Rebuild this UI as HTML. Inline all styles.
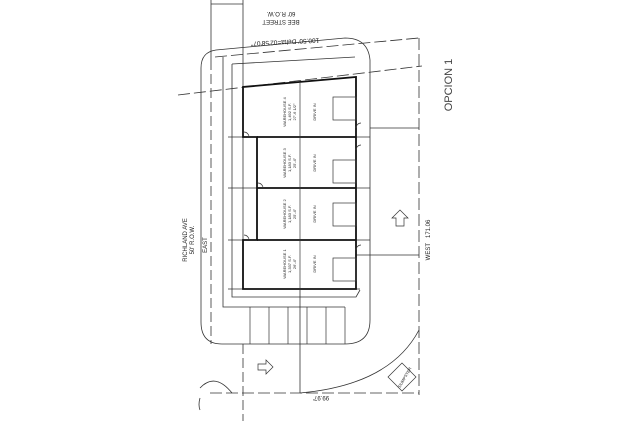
<!DOCTYPE html>
<html><head><style>
html,body{margin:0;padding:0;background:#fff;}
svg{display:block;font-family:"Liberation Sans",sans-serif;}
</style></head><body>
<svg width="631" height="421" viewBox="0 0 631 421" xmlns="http://www.w3.org/2000/svg">
<g fill="none" stroke="#333" stroke-width="0.8">
<line x1="211" y1="0" x2="211" y2="60"/>
<line x1="243" y1="0" x2="243" y2="87"/>
<line x1="211" y1="4" x2="243" y2="4"/>
<line x1="211" y1="60" x2="211" y2="344" stroke-dasharray="10,4"/>
<line x1="243" y1="344" x2="243" y2="421" stroke-dasharray="10,4"/>
<path d="M201,68 Q201,52 216,50 L345,38 Q368,38 370,60 L370,320 Q370,344 345,344 L222,344 Q201,344 201,322 Z"/>
<path d="M223,57 L223,307 L345,307"/>
<path d="M232,64 L232,297 L356,297 L360,290"/>
<line x1="232" y1="64" x2="355" y2="57"/>
<line x1="178" y1="95" x2="422" y2="66" stroke-dasharray="12,4"/>
<line x1="215" y1="57" x2="419" y2="38" stroke-dasharray="12,4"/>
<line x1="419" y1="38" x2="419" y2="395" stroke-dasharray="12,4"/>
<line x1="210" y1="393" x2="419" y2="393" stroke-dasharray="12,4"/>
<path d="M200,388 Q215,372 232,393"/>
<path d="M200,398 Q198,405 200,410"/>
<path d="M300,393 Q390,385 419,330"/>
<line x1="370" y1="128" x2="419" y2="128"/>
<line x1="356" y1="255" x2="419" y2="255"/>
<line x1="300" y1="290" x2="300" y2="393"/>
<g stroke-width="0.7">
<line x1="250" y1="307" x2="250" y2="344"/>
<line x1="269" y1="307" x2="269" y2="344"/>
<line x1="288" y1="307" x2="288" y2="344"/>
<line x1="307" y1="307" x2="307" y2="344"/>
<line x1="326" y1="307" x2="326" y2="344"/>
<line x1="345" y1="307" x2="345" y2="344"/>
</g>
<line x1="228" y1="137" x2="370" y2="137"/>
<line x1="228" y1="188" x2="370" y2="188"/>
<line x1="228" y1="240" x2="370" y2="240"/>
<line x1="228" y1="289" x2="360" y2="289"/>
<line x1="243" y1="137" x2="243" y2="240"/>
</g>
<g fill="none" stroke="#111" stroke-width="1.8">
<path d="M243,137 L243,87 L356,77 L356,289 L243,289 L243,240 L257,240 L257,137 Z"/>
<line x1="257" y1="137" x2="356" y2="137"/>
<line x1="257" y1="188" x2="356" y2="188"/>
<line x1="257" y1="240" x2="356" y2="240"/>
</g>
<g fill="none" stroke="#333" stroke-width="0.7">
<line x1="300" y1="82" x2="300" y2="289"/>
<rect x="333" y="97" width="23" height="23"/>
<rect x="333" y="160" width="23" height="23"/>
<rect x="333" y="203" width="23" height="23"/>
<rect x="333" y="258" width="23" height="23"/>
<path d="M249,137 A5,5 0 0 0 244,132"/>
<path d="M263,188 A5,5 0 0 0 258,183"/>
<path d="M249,240 A5,5 0 0 0 244,235"/>
<path d="M356,128 A5,5 0 0 1 361,123"/>
<path d="M356,150 A5,5 0 0 1 361,145"/>
<path d="M356,250 A5,5 0 0 1 361,245"/>
<path d="M392,218 L400,210 L408,218 L404,218 L404,226 L396,226 L396,218 Z"/>
<path d="M266,360 L273,367 L266,374 L266,370 L258,370 L258,364 L266,364 Z"/>
<path d="M402,363 L416,377 L402,391 L388,377 Z"/>
</g>
<g fill="#222" font-size="6">
<text transform="translate(281,20) rotate(180)" text-anchor="middle">BEE STREET</text>
<text transform="translate(281,12) rotate(180)" text-anchor="middle">60' R.O.W.</text>
<text transform="translate(285,40) rotate(177)" text-anchor="middle" font-size="6.5">100.50' Delta=02'58'07"</text>
<text transform="translate(452,85) rotate(-90)" text-anchor="middle" font-size="11" fill="#444">OPCION 1</text>
<text transform="translate(187,240) rotate(-90)" text-anchor="middle">RICHLAND AVE</text>
<text transform="translate(194,240) rotate(-90)" text-anchor="middle">50' R.O.W.</text>
<text transform="translate(207,245) rotate(-90)" text-anchor="middle">EAST</text>
<text transform="translate(430,240) rotate(-90)" text-anchor="middle">WEST&#160;&#160;&#160;171.06</text>
<text transform="translate(321,396) rotate(180)" text-anchor="middle">99.97'</text>
<g font-size="4">
<text transform="translate(286,112) rotate(-90)" text-anchor="middle">WAREHOUSE 4</text>
<text transform="translate(291,112) rotate(-90)" text-anchor="middle">1,492 S.F.</text>
<text transform="translate(296,112) rotate(-90)" text-anchor="middle">27'-6 1/2"</text>
<text transform="translate(286,163) rotate(-90)" text-anchor="middle">WAREHOUSE 3</text>
<text transform="translate(291,163) rotate(-90)" text-anchor="middle">1,183 S.F.</text>
<text transform="translate(296,163) rotate(-90)" text-anchor="middle">25'-4"</text>
<text transform="translate(286,214) rotate(-90)" text-anchor="middle">WAREHOUSE 2</text>
<text transform="translate(291,214) rotate(-90)" text-anchor="middle">1,183 S.F.</text>
<text transform="translate(296,214) rotate(-90)" text-anchor="middle">25'-4"</text>
<text transform="translate(286,264) rotate(-90)" text-anchor="middle">WAREHOUSE 1</text>
<text transform="translate(291,264) rotate(-90)" text-anchor="middle">1,337 S.F.</text>
<text transform="translate(296,264) rotate(-90)" text-anchor="middle">26'-4"</text>
<text transform="translate(316,112) rotate(-90)" text-anchor="middle">DRIVE IN</text>
<text transform="translate(316,163) rotate(-90)" text-anchor="middle">DRIVE IN</text>
<text transform="translate(316,214) rotate(-90)" text-anchor="middle">DRIVE IN</text>
<text transform="translate(316,264) rotate(-90)" text-anchor="middle">DRIVE IN</text>
<text transform="translate(406,378) rotate(-60)" text-anchor="middle">DUMPSTER</text>
</g>
</g>
</svg>
</body></html>
